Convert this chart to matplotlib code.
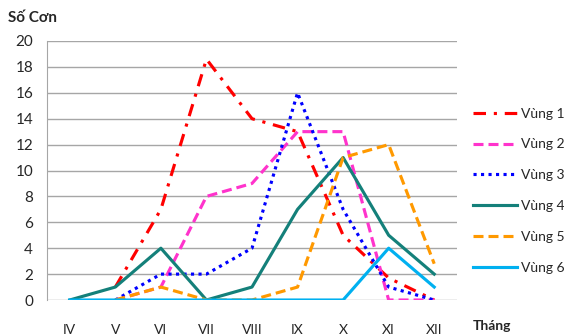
import numpy as np
import matplotlib
matplotlib.use('Agg')
import matplotlib.pyplot as plt

plt.rcParams['font.family'] = ['Lato', 'Noto Sans', 'DejaVu Sans']

# data
months = ['IV', 'V', 'VI', 'VII', 'VIII', 'IX', 'X', 'XI', 'XII']
nan = np.nan
vung1 = [nan, 1, 7, 18.6, 14, 13, 5, 1.7, 0]
vung2 = [nan, 0, 1, 8, 9, 13, 13, 0, 0]
vung3 = [nan, 0, 2, 2, 4, 16, 7, 1, 0]
vung4 = [0, 1, 4, 0, 1, 7, 11, 5, 2]
vung5 = [nan, 0, 1, 0, 0, 1, 11, 12, 2.8]
vung6 = [0, 0, 0, 0, 0, 0, 0, 4, 1]
series_names = ['Vùng 1', 'Vùng 2', 'Vùng 3', 'Vùng 4', 'Vùng 5', 'Vùng 6']

styles = [
    dict(color='#FF0000', linestyle=(0, (4, 2.5, 1, 2.5))),
    dict(color='#FF33CC', linestyle=(0, (3.2, 1.6))),
    dict(color='#0000FF', linestyle=(0, (1, 1.4))),
    dict(color='#14807A', linestyle='-'),
    dict(color='#FF9900', linestyle=(0, (3.2, 1.6))),
    dict(color='#00B0F0', linestyle='-'),
]

fig = plt.figure(figsize=(5.64, 3.36), dpi=100)
ax = fig.add_axes([47 / 564, 36 / 336, 410 / 564, 259 / 336])

x = np.arange(len(months))
all_series = [vung1, vung2, vung3, vung4, vung5, vung6]
for vals, name, st in zip(all_series, series_names, styles):
    ax.plot(x, vals, label=name, linewidth=2.25, **st)

ax.set_xlim(-0.5, len(months) - 0.5)
ax.set_ylim(0, 20)
ax.set_yticks(range(0, 21, 2))
ax.set_xticks(x)
ax.set_xticklabels(months)
ax.yaxis.grid(True, color='#A6A6A6', linewidth=1)
ax.set_axisbelow(True)
for s in ['top', 'right', 'bottom']:
    ax.spines[s].set_visible(False)
ax.spines['left'].set_color('#A6A6A6')
ax.tick_params(axis='y', length=0, pad=10, labelsize=11, labelcolor='#262626')
ax.tick_params(axis='x', length=0, pad=17, labelsize=10, labelcolor='#262626')

fig.text(8 / 564, 1 - 18 / 336, 'Số Cơn', fontsize=11, fontweight='bold',
         va='center', ha='left', color='#262626')
fig.text(473 / 564, 1 - 326 / 336, 'Tháng', fontsize=10, fontweight='bold',
         va='center', ha='left', color='#262626')

fig.legend(loc='upper left', bbox_to_anchor=(460 / 564, 1 - 95 / 336),
           frameon=False, fontsize=10, handlelength=3.2, handletextpad=0.3,
           labelspacing=1.36, labelcolor='#262626')

fig.savefig('out.png', dpi=100)
